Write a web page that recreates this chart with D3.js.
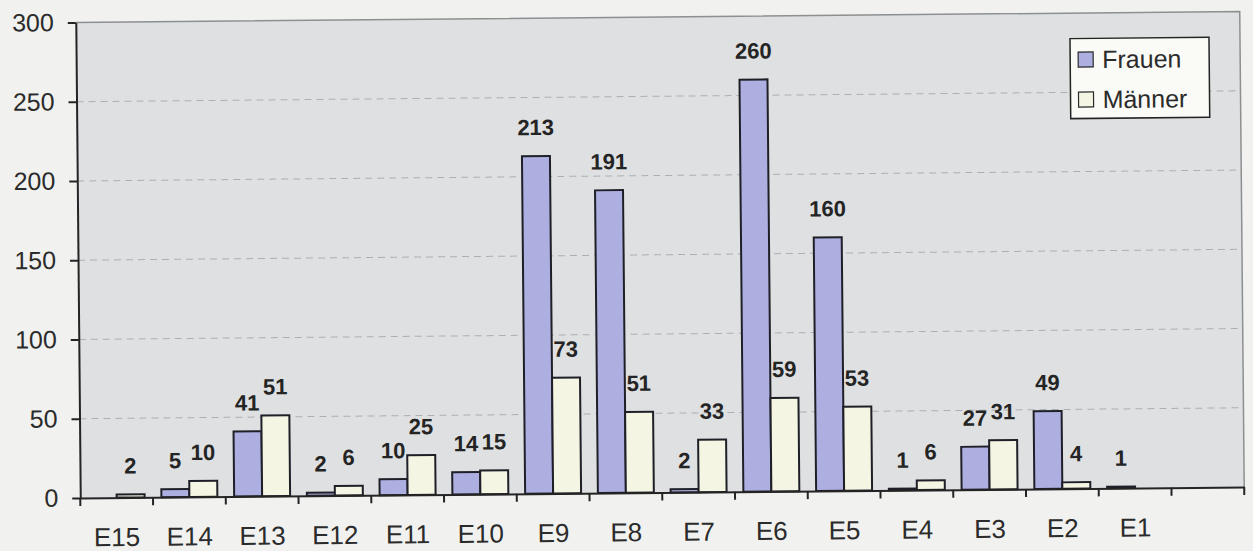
<!DOCTYPE html>
<html>
<head>
<meta charset="utf-8">
<script src="https://cdn.jsdelivr.net/npm/d3@7"></script>
<style>
  html, body { margin: 0; padding: 0; background: #f1f2f0; }
  svg { display: block; font-family: "Liberation Sans", Arial, sans-serif; }
</style>
</head>
<body>
<svg id="chart" width="1253" height="551"></svg>
<script>
// ---- data ----
const categories = ["E15","E14","E13","E12","E11","E10","E9","E8","E7","E6","E5","E4","E3","E2","E1"];
const frauen  = [0, 5, 41, 2, 10, 14, 213, 191, 2, 260, 160, 1, 27, 49, 1];
const maenner = [2, 10, 51, 6, 25, 15, 73, 51, 33, 59, 53, 6, 31, 4, 0];
const seriesNames = ["Frauen", "Männer"];
const yTicks = [0, 50, 100, 150, 200, 250, 300];

// ---- layout ----
const W = 1253, H = 551;
const m = { left: 78, right: 1242, top: 17, bottom: 492.5 };
const colors = { "Frauen": "#adafe1", "Männer": "#f4f5e3" };
const ink = "#242424";

const svg = d3.select("#chart");
svg.append("rect").attr("width", W).attr("height", H).attr("fill", "#f1f2f0");

const g = svg.append("g").attr("transform", "rotate(-0.54,660,255)");

const slots = categories.concat([" "]);
const x0 = d3.scaleBand().domain(slots).range([m.left, m.right]).padding(0);
const x1 = d3.scaleBand().domain(seriesNames).range([0, x0.bandwidth()]).paddingInner(0).paddingOuter(0.3);
const y = d3.scaleLinear().domain([0, 300]).range([m.bottom, m.top]);

// plot area
g.append("rect")
  .attr("x", m.left).attr("y", m.top)
  .attr("width", m.right - m.left).attr("height", m.bottom - m.top)
  .attr("fill", "#dee0e1");

// gridlines
g.append("g").selectAll("line")
  .data(yTicks.filter(t => t > 0 && t < 300))
  .join("line")
  .attr("x1", m.left).attr("x2", m.right)
  .attr("y1", d => y(d)).attr("y2", d => y(d))
  .attr("stroke", "#aab0b3").attr("stroke-width", 1)
  .attr("stroke-dasharray", "7,5");

// top & right border
g.append("path")
  .attr("d", `M${m.left},${y(300)}H${m.right}V${m.bottom}`)
  .attr("fill", "none").attr("stroke", "#8d9090").attr("stroke-width", 1.5);

// bars
const rows = categories.map((c, i) => ({ cat: c, values: [
  { key: "Frauen", v: frauen[i] },
  { key: "Männer", v: maenner[i] }
]}));

const grp = g.append("g").selectAll("g")
  .data(rows).join("g")
  .attr("transform", d => `translate(${x0(d.cat)},0)`);

grp.selectAll("rect")
  .data(d => d.values.filter(e => e.v > 0))
  .join("rect")
  .attr("x", d => x1(d.key))
  .attr("y", d => y(d.v))
  .attr("width", x1.bandwidth())
  .attr("height", d => y(0) - y(d.v))
  .attr("fill", d => colors[d.key])
  .attr("stroke", "#1f1f28").attr("stroke-width", 2);

grp.selectAll("text")
  .data(d => d.values.filter(e => e.v > 0))
  .join("text")
  .attr("x", d => x1(d.key) + x1.bandwidth() / 2)
  .attr("y", d => y(d.v) - 21)
  .attr("text-anchor", "middle")
  .attr("font-size", 22).attr("font-weight", "bold")
  .attr("fill", ink)
  .text(d => d.v);

// y axis
const yAxis = g.append("g")
  .attr("transform", `translate(${m.left},0)`)
  .call(d3.axisLeft(y).tickValues(yTicks).tickSize(8).tickSizeOuter(0).tickPadding(14));
yAxis.select(".domain").attr("stroke", ink).attr("stroke-width", 2);
yAxis.selectAll(".tick line").attr("stroke", ink).attr("stroke-width", 2);
yAxis.selectAll("text").attr("font-size", 25).attr("fill", "#2b2b2b")
  .attr("font-family", "'Liberation Sans', Arial, sans-serif");

// x axis
const xAxis = g.append("g")
  .attr("transform", `translate(0,${m.bottom})`)
  .call(d3.axisBottom(x0).tickSize(0).tickSizeOuter(0));
xAxis.select(".domain").attr("stroke", ink).attr("stroke-width", 2);
xAxis.selectAll("text").attr("font-size", 26).attr("fill", "#2b2b2b")
  .attr("y", 48.5).attr("dy", 0)
  .attr("font-family", "'Liberation Sans', Arial, sans-serif");

// category boundary ticks
const bounds = slots.map(s => x0(s)).concat([x0.range()[1]]);
g.append("g").selectAll("line")
  .data(bounds).join("line")
  .attr("x1", d => d).attr("x2", d => d)
  .attr("y1", m.bottom).attr("y2", m.bottom + 8)
  .attr("stroke", ink).attr("stroke-width", 2);

// legend
const lg = g.append("g").attr("transform", "translate(1072,42.5)");
lg.append("rect").attr("width", 139).attr("height", 80)
  .attr("fill", "#fafaf6").attr("stroke", ink).attr("stroke-width", 1.5);
const li = lg.selectAll("g.item").data(seriesNames).join("g")
  .attr("class", "item")
  .attr("transform", (d, i) => `translate(8,${21 + i * 40})`);
li.append("rect").attr("x", 0).attr("y", -7.5).attr("width", 15).attr("height", 15)
  .attr("fill", d => colors[d]).attr("stroke", "#2a2a2a").attr("stroke-width", 1.2);
li.append("text").attr("x", 24).attr("y", 0).attr("dy", "0.35em")
  .attr("font-size", 25).attr("fill", "#2b2b2b").text(d => d);
</script>
</body>
</html>
